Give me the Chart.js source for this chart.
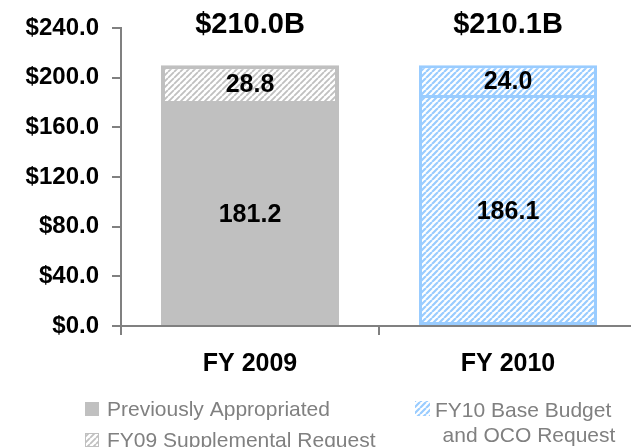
<!DOCTYPE html>
<html>
<head>
<meta charset="utf-8">
<script src="https://cdn.jsdelivr.net/npm/chart.js@4.4.0/dist/chart.umd.min.js"></script>
<style>
  html, body { margin: 0; padding: 0; background: #fff; overflow: hidden; }
</style>
</head>
<body>
<!-- a bit wider than the window: the plot runs off the right edge like the original -->
<canvas id="budgetChart" width="637" height="447"></canvas>
<script>
// values
const categories = ["FY 2009", "FY 2010"];
const previouslyAppropriated = [181.2, null];
const fy09Supplemental = [28.8, null];
const fy10Base = [null, 186.1];
const fy10Oco = [null, 24.0];
const yTickValues = [0, 40, 80, 120, 160, 200, 240];

const GREY = "#c0c0c0";
const BLUE = "#99ccff";
const AXIS = "#808080";

function makeHatch(color, width) {
  const s = 6;
  const c = document.createElement("canvas");
  c.width = s;
  c.height = s;
  const g = c.getContext("2d");
  g.fillStyle = "#fff";
  g.fillRect(0, 0, s, s);
  g.strokeStyle = color;
  g.lineWidth = width;
  g.beginPath();
  [-s, 0, s].forEach((o) => {
    g.moveTo(o, s);
    g.lineTo(o + s, 0);
  });
  g.stroke();
  return g.createPattern(c, "repeat");
}

const greyHatch = makeHatch(GREY, 1.8);
const blueHatch = makeHatch(BLUE, 2.2);

// segment values + totals on top
const labelPlugin = {
  id: "barLabels",
  afterDatasetsDraw(chart) {
    const ctx = chart.ctx;
    ctx.save();
    ctx.fillStyle = "#000";
    ctx.textAlign = "center";
    ctx.textBaseline = "alphabetic";
    ctx.font = "bold 25px 'Liberation Sans', Arial, sans-serif";
    chart.data.datasets.forEach((ds, i) => {
      const meta = chart.getDatasetMeta(i);
      meta.data.forEach((bar, j) => {
        const v = ds.data[j];
        if (v == null) return;
        const mid = (bar.y + bar.base) / 2;
        ctx.fillText(v.toFixed(1), bar.x, mid + 9);
      });
    });
    // totals
    ctx.font = "bold 29px 'Liberation Sans', Arial, sans-serif";
    categories.forEach((c, j) => {
      let sum = 0;
      chart.data.datasets.forEach((ds) => { sum += ds.data[j] || 0; });
      const x = chart.scales.x.getPixelForValue(j);
      ctx.fillText("$" + sum.toFixed(1) + "B", x, 33);
    });
    ctx.restore();
  }
};

const legendPlugin = {
  id: "sideLegend",
  afterDraw(chart) {
    const ctx = chart.ctx;
    ctx.save();
    ctx.font = "21px 'Liberation Sans', Arial, sans-serif";
    ctx.textAlign = "left";
    ctx.textBaseline = "alphabetic";

    ctx.fillStyle = GREY;
    ctx.fillRect(85, 402, 14, 14);
    ctx.fillStyle = greyHatch;
    ctx.fillRect(85, 433, 14, 14);
    ctx.strokeStyle = GREY;
    ctx.lineWidth = 1;
    ctx.strokeRect(85.5, 433.5, 13, 13);

    ctx.fillStyle = AXIS;
    ctx.fillText("Previously Appropriated", 107, 416);
    ctx.fillText("FY09 Supplemental Request", 107, 447);

    ctx.fillStyle = blueHatch;
    ctx.fillRect(415, 401, 15, 15);
    ctx.fillStyle = AXIS;
    ctx.fillText("FY10 Base Budget", 435, 417);
    ctx.textAlign = "center";
    ctx.fillText("and OCO Request", 529, 442);
    ctx.restore();
  }
};

new Chart(document.getElementById("budgetChart"), {
  type: "bar",
  data: {
    labels: categories,
    datasets: [
      {
        label: "Previously Appropriated",
        data: previouslyAppropriated,
        backgroundColor: GREY,
        borderWidth: 0
      },
      {
        label: "FY09 Supplemental Request",
        data: fy09Supplemental,
        backgroundColor: greyHatch,
        borderColor: GREY,
        borderWidth: 4,
        borderSkipped: "bottom"
      },
      {
        label: "FY10 Base Budget",
        data: fy10Base,
        backgroundColor: blueHatch,
        borderColor: BLUE,
        borderWidth: 3,
        borderSkipped: false
      },
      {
        label: "FY10 OCO Request",
        data: fy10Oco,
        backgroundColor: blueHatch,
        borderColor: BLUE,
        borderWidth: 3,
        borderSkipped: "bottom"
      }
    ]
  },
  options: {
    responsive: false,
    animation: false,
    devicePixelRatio: 1,
    layout: { padding: { top: 28, right: 0, bottom: 0, left: 0 } },
    datasets: { bar: { barPercentage: 0.69, categoryPercentage: 1 } },
    plugins: {
      legend: { display: false },
      tooltip: { enabled: false }
    },
    scales: {
      x: {
        stacked: true,
        grid: { offset: true, drawOnChartArea: false, tickLength: 9, color: AXIS, lineWidth: 2 },
        border: { color: AXIS, width: 2 },
        ticks: {
          color: "#000",
          padding: 14,
          font: { family: "'Liberation Sans', Arial, sans-serif", size: 25, weight: "bold" }
        },
        afterFit: (scale) => { scale.height = 121; }
      },
      y: {
        stacked: true,
        min: 0,
        max: 240,
        afterBuildTicks: (scale) => {
          scale.ticks = yTickValues.map((v) => ({ value: v }));
        },
        grid: { drawOnChartArea: false, tickLength: 9, color: AXIS, lineWidth: 2 },
        border: { color: AXIS, width: 2 },
        ticks: {
          color: "#000",
          padding: 13,
          font: { family: "'Liberation Sans', Arial, sans-serif", size: 24, weight: "bold" },
          callback: (v) => "$" + Number(v).toFixed(1)
        },
        afterFit: (scale) => { scale.width = 121; }
      }
    }
  },
  plugins: [labelPlugin, legendPlugin]
});
</script>
</body>
</html>
